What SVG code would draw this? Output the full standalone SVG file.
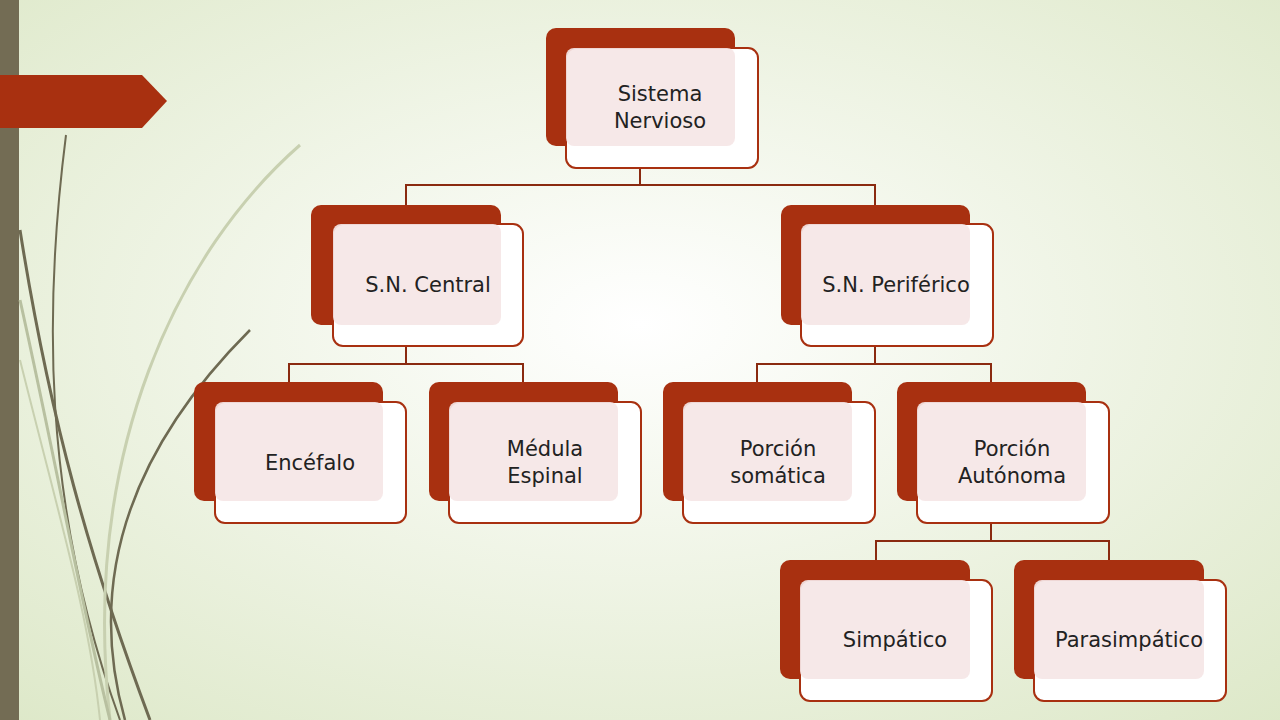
<svg xmlns="http://www.w3.org/2000/svg" width="1280" height="720" viewBox="0 0 1280 720">
<defs>
<radialGradient id="bg" cx="0.5" cy="0.45" r="0.75">
<stop offset="0" stop-color="#ffffff"/><stop offset="1" stop-color="#dde8c8"/>
</radialGradient>
<style>
.d{fill:#a83010}
.w{fill:#fff;stroke:#a83010;stroke-width:2}
.p{fill:#f5e6e6;opacity:0.92}
.t{font-family:"DejaVu Sans","Liberation Sans",sans-serif;font-size:21px;fill:#222;text-anchor:middle}
.c{fill:none;stroke:#8a2a10;stroke-width:2}
.v{fill:none;stroke:#6e6a52}
</style>
</defs>
<rect width="1280" height="720" fill="url(#bg)"/>
<rect x="0" y="0" width="19" height="720" fill="#736c54"/>
<path d="M0 75 H142 L167 101 L142 128 H0 Z" fill="#a83010"/>
<g class="v">
<path d="M66 135 C45 300 40 500 120 720" stroke-width="2"/>
<path d="M20 230 C50 420 90 560 150 720" stroke-width="3"/>
<path d="M250 330 C150 430 80 560 125 720" stroke-width="2.5"/>
<path d="M300 145 C180 250 80 450 110 720" stroke="#c8d0b0" stroke-width="3"/>
<path d="M20 300 C60 480 80 600 110 720" stroke="#b8c0a0" stroke-width="3"/>
<path d="M20 360 C60 520 90 620 100 720" stroke="#c8d0b0" stroke-width="2"/>
</g>
<g id="connectors" class="c">
<path d="M640 168 V185 M406 205 V185 H875 V205"/>
<path d="M406 346 V364 M289 382 V364 H523 V382"/>
<path d="M875 346 V364 M757 382 V364 H991 V382"/>
<path d="M991 523 V541 M876 560 V541 H1109 V560"/>
</g>
<g id="n-sistema"><rect class="d" x="546" y="28" width="189" height="118" rx="10"/><rect class="w" x="566" y="48" width="192" height="120" rx="10"/><rect class="p" x="566" y="48" width="169" height="98" rx="8"/><text class="t" x="660" y="101">Sistema</text><text class="t" x="660" y="128">Nervioso</text></g>
<g id="n-central"><rect class="d" x="311" y="205" width="190" height="120" rx="10"/><rect class="w" x="333" y="224" width="190" height="122" rx="10"/><rect class="p" x="333" y="224" width="168" height="101" rx="8"/><text class="t" x="428" y="292">S.N. Central</text></g>
<g id="n-periferico"><rect class="d" x="781" y="205" width="189" height="120" rx="10"/><rect class="w" x="801" y="224" width="192" height="122" rx="10"/><rect class="p" x="801" y="224" width="169" height="101" rx="8"/><text class="t" x="896" y="292">S.N. Periférico</text></g>
<g id="n-encefalo"><rect class="d" x="194" y="382" width="189" height="119" rx="10"/><rect class="w" x="215" y="402" width="191" height="121" rx="10"/><rect class="p" x="215" y="402" width="168" height="99" rx="8"/><text class="t" x="310" y="470">Encéfalo</text></g>
<g id="n-medula"><rect class="d" x="429" y="382" width="189" height="119" rx="10"/><rect class="w" x="449" y="402" width="192" height="121" rx="10"/><rect class="p" x="449" y="402" width="169" height="99" rx="8"/><text class="t" x="545" y="456">Médula</text><text class="t" x="545" y="483">Espinal</text></g>
<g id="n-somatica"><rect class="d" x="663" y="382" width="189" height="119" rx="10"/><rect class="w" x="683" y="402" width="192" height="121" rx="10"/><rect class="p" x="683" y="402" width="169" height="99" rx="8"/><text class="t" x="778" y="456">Porción</text><text class="t" x="778" y="483">somática</text></g>
<g id="n-autonoma"><rect class="d" x="897" y="382" width="189" height="119" rx="10"/><rect class="w" x="917" y="402" width="192" height="121" rx="10"/><rect class="p" x="917" y="402" width="169" height="99" rx="8"/><text class="t" x="1012" y="456">Porción</text><text class="t" x="1012" y="483">Autónoma</text></g>
<g id="n-simpatico"><rect class="d" x="780" y="560" width="190" height="119" rx="10"/><rect class="w" x="800" y="580" width="192" height="121" rx="10"/><rect class="p" x="800" y="580" width="170" height="99" rx="8"/><text class="t" x="895" y="647">Simpático</text></g>
<g id="n-parasimpatico"><rect class="d" x="1014" y="560" width="190" height="119" rx="10"/><rect class="w" x="1034" y="580" width="192" height="121" rx="10"/><rect class="p" x="1034" y="580" width="170" height="99" rx="8"/><text class="t" x="1129" y="647">Parasimpático</text></g>
</svg>
